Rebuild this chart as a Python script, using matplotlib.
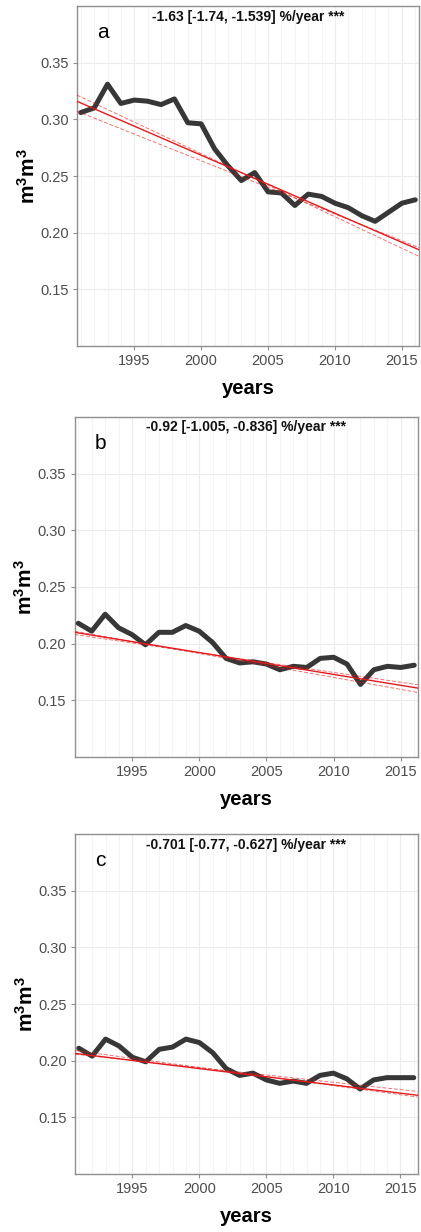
import matplotlib

matplotlib.use("Agg")
import matplotlib.pyplot as plt
import numpy as np

plt.rcParams["font.family"] = ["Liberation Sans", "DejaVu Sans"]
plt.rcParams["mathtext.fontset"] = "custom"
plt.rcParams["mathtext.rm"] = "Liberation Sans"
plt.rcParams["mathtext.bf"] = "Liberation Sans:bold"

# annual soil moisture (m3/m3), one series per panel
years = np.arange(1991, 2017)
sm_a = [0.306, 0.310, 0.331, 0.314, 0.317, 0.316, 0.313, 0.318, 0.297, 0.296,
        0.274, 0.259, 0.246, 0.253, 0.236, 0.235, 0.224, 0.234, 0.232, 0.226,
        0.222, 0.215, 0.210, 0.218, 0.226, 0.229]
sm_b = [0.218, 0.211, 0.226, 0.214, 0.208, 0.199, 0.210, 0.210, 0.216, 0.211,
        0.201, 0.187, 0.183, 0.184, 0.182, 0.177, 0.180, 0.179, 0.187, 0.188,
        0.182, 0.164, 0.177, 0.180, 0.179, 0.181]
sm_c = [0.211, 0.204, 0.219, 0.213, 0.203, 0.199, 0.210, 0.212, 0.219, 0.216,
        0.207, 0.193, 0.187, 0.189, 0.183, 0.180, 0.182, 0.180, 0.187, 0.189,
        0.184, 0.175, 0.183, 0.185, 0.185, 0.185]

panel_labels = ["a", "b", "c"]
trend_pct = [-1.63, -0.92, -0.701]          # %/year
ci_low_pct = [-1.74, -1.005, -0.77]
ci_high_pct = [-1.539, -0.836, -0.627]
stars = ["***", "***", "***"]
trend_label = ["-1.63", "-0.92", "-0.701"]
ci_low_label = ["-1.74", "-1.005", "-0.77"]
ci_high_label = ["-1.539", "-0.836", "-0.627"]
# fitted value in 1991 for the trend line and the two bounds
trend_base = [0.3145, 0.2095, 0.2060]
ci_low_base = [0.3198, 0.2104, 0.2085]
ci_high_base = [0.3058, 0.2076, 0.2054]

series = [sm_a, sm_b, sm_c]

W, H = 421, 1232
# axes boxes in pixels: left, top, right, bottom
boxes = [(77, 6, 419, 346), (74.5, 417, 418, 757), (75, 834, 417.5, 1174)]

fig = plt.figure(figsize=(W / 100, H / 100), dpi=100)

tick_col = "#4d4d4d"
spine_col = "#8f8f8f"
red = "#e41a1c"
x0, x1 = 1990.72, 2016.28
xs = np.array([x0, x1])


def trend(base, pct, x):
    return base * (1 + pct / 100.0 * (x - 1991))


for i, (l, t, r, b) in enumerate(boxes):
    ax = fig.add_axes([l / W, 1 - b / H, (r - l) / W, (b - t) / H])
    ax.set_xlim(x0, x1)
    ax.set_ylim(0.1, 0.4)

    ax.set_xticks(range(1995, 2016, 5))
    ax.set_xticks(range(1991, 2017), minor=True)
    ax.set_yticks([0.15, 0.20, 0.25, 0.30, 0.35])
    ax.set_yticklabels(["%.2f" % v for v in [0.15, 0.20, 0.25, 0.30, 0.35]])
    ax.grid(True, which="major", color="#ececec", linewidth=0.8)
    ax.grid(True, which="minor", axis="x", color="#f4f4f4", linewidth=0.8)
    ax.set_axisbelow(True)
    ax.tick_params(which="major", length=3, width=0.8, color=spine_col,
                   labelsize=10.5, labelcolor=tick_col, pad=3)
    ax.tick_params(which="minor", length=0)
    for s in ax.spines.values():
        s.set_color(spine_col)
        s.set_linewidth(1.0)

    ax.plot(years, series[i], color="#262626", lw=3.6, alpha=0.92,
            solid_capstyle="round", solid_joinstyle="round", zorder=3)

    ax.plot(xs, trend(trend_base[i], trend_pct[i], xs), color=red, lw=1.0,
            zorder=4)
    ax.plot(xs, trend(ci_low_base[i], ci_low_pct[i], xs), color=red, lw=0.7,
            alpha=0.6, ls=(0, (4, 2)), zorder=4)
    ax.plot(xs, trend(ci_high_base[i], ci_high_pct[i], xs), color=red, lw=0.7,
            alpha=0.6, ls=(0, (4, 2)), zorder=4)

    ax.text(0.5, 1 - 10.5 / (b - t),
            "%s [%s, %s] %%/year %s" % (trend_label[i], ci_low_label[i],
                                        ci_high_label[i], stars[i]),
            transform=ax.transAxes, ha="center", va="center",
            fontsize=10, fontweight="bold", color="#111111")
    ax.text(20 / (r - l), 1 - 32 / (b - t), panel_labels[i],
            transform=ax.transAxes, ha="left", va="baseline", fontsize=15)

    ax.set_xlabel("years", fontsize=14.5, fontweight="bold", labelpad=8)
    ax.set_ylabel(r"$\mathbf{m^3m^3}$", fontsize=15, labelpad=1)

fig.savefig("out.png", dpi=100)
